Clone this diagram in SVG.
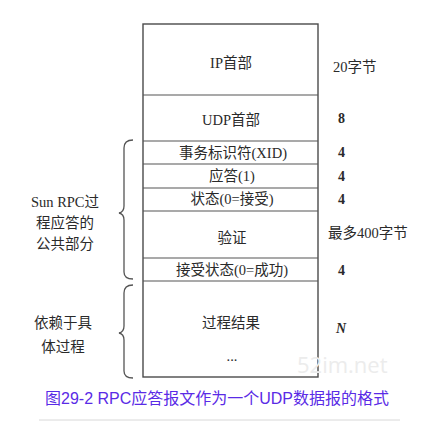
<svg xmlns="http://www.w3.org/2000/svg" width="423" height="433" viewBox="0 0 423 433">
<style>
.t{font-family:"Liberation Serif","Noto Sans CJK SC",serif;font-size:14.5px;fill:#2a2a2a;text-anchor:middle}
.n{font-family:"Liberation Serif","Noto Sans CJK SC",serif;font-size:14px;fill:#2a2a2a;font-weight:bold}
.r{font-family:"Liberation Serif","Noto Sans CJK SC",serif;font-size:14.5px;fill:#2a2a2a}
.box{fill:#fff;stroke:#4a4a4a;stroke-width:1.4}
.div{stroke:#555;stroke-width:1.2}
.brace{fill:none;stroke:#555;stroke-width:1.3}
</style>
<rect width="423" height="433" fill="#fff"/>
<g id="frame"><rect class="box" x="143" y="24" width="175" height="353"/></g>
<g id="connectors">
<line class="div" x1="143" y1="95" x2="318" y2="95"/>
<line class="div" x1="143" y1="141" x2="318" y2="141"/>
<line class="div" x1="143" y1="164" x2="318" y2="164"/>
<line class="div" x1="143" y1="188" x2="318" y2="188"/>
<line class="div" x1="143" y1="211" x2="318" y2="211"/>
<line class="div" x1="143" y1="258" x2="318" y2="258"/>
<line class="div" x1="143" y1="281" x2="318" y2="281"/>
<path class="brace" d="M133,140 Q124,140 124,148 L124,206 Q124,212 119,213 Q124,214 124,220 L124,272 Q124,279 133,279"/>
<path class="brace" d="M133,285 Q124,285 124,293 L124,326 Q124,332 119,333 Q124,334 124,340 L124,371 Q124,378 133,378"/>
</g>
<g id="ip"><text class="t" x="231" y="68">IP首部</text><text class="r" x="333" y="72">20字节</text></g>
<g id="udp"><text class="t" x="231" y="125">UDP首部</text><text class="n" x="338" y="123">8</text></g>
<g id="xid"><text class="t" x="233" y="158">事务标识符(XID)</text><text class="n" x="338" y="157">4</text></g>
<g id="reply"><text class="t" x="232" y="181">应答(1)</text><text class="n" x="338" y="181">4</text></g>
<g id="status"><text class="t" x="232" y="204">状态(0=接受)</text><text class="n" x="338" y="204">4</text></g>
<g id="verifier"><text class="t" x="232" y="243">验证</text><text class="r" x="328" y="238">最多400字节</text></g>
<g id="accept"><text class="t" x="232" y="275">接受状态(0=成功)</text><text class="n" x="338" y="275">4</text></g>
<g id="result"><text class="t" x="231" y="328">过程结果</text><text class="t" x="232" y="361">...</text><text class="n" x="336" y="333" font-style="italic">N</text></g>
<g id="label-common"><text class="t" x="65" y="207">Sun RPC过</text><text class="t" x="65" y="228">程应答的</text><text class="t" x="65" y="249">公共部分</text></g>
<g id="label-proc"><text class="t" x="63" y="328">依赖于具</text><text class="t" x="63" y="352">体过程</text></g>
<text x="297" y="373" font-family="'Open Sans',sans-serif" font-size="22" fill="#ececec">52im.net</text>
<text x="45" y="404" font-family="'Liberation Sans','Noto Sans CJK SC',sans-serif" font-size="16" fill="#5a2be6">图29-2 RPC应答报文作为一个UDP数据报的格式</text>
<line x1="39" y1="420" x2="400" y2="420" stroke="#d8d8d8" stroke-width="1"/>
</svg>
